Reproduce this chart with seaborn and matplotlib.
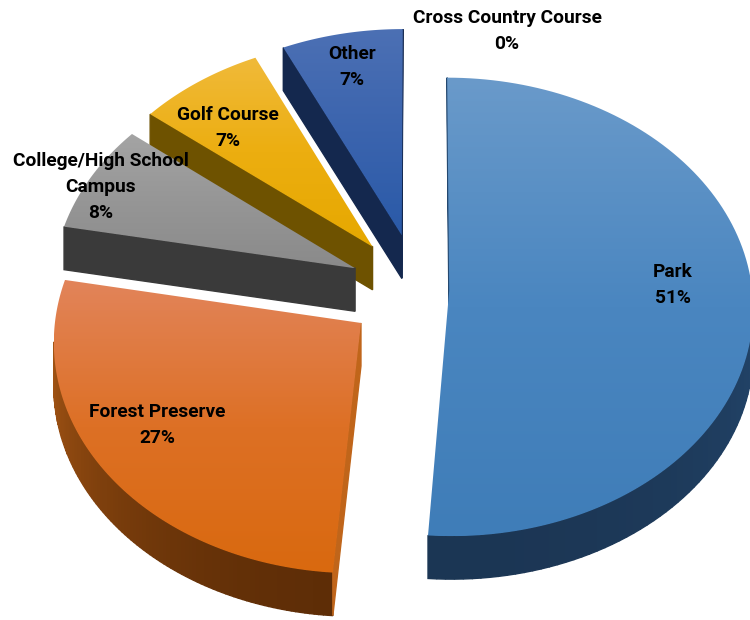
#!/usr/bin/env python3
"""Exploded 3D style pie of race venue types."""

import numpy as np
import seaborn as sns
import matplotlib.pyplot as plt
from matplotlib.colors import LinearSegmentedColormap
from matplotlib.patches import Polygon

categories = ["Park", "Forest Preserve", "College/High School\nCampus", "Golf Course", "Other", "Cross Country Course"]
percents = [51, 27, 8, 7, 7, 0]
# slice sizes before rounding, as far as they can be measured on the picture
shares = [51.15, 26.85, 7.7, 7.3, 7.0, 0]
explode = [0.103, 0.235, 0.23, 0.245, 0.25, 0.2]

# top face gradient stops, rim colours (light end, dark end)
top_colors = [("#6a9aca", "#4a86c0", "#3f7db8"), ("#e2845a", "#dd7025", "#d9690f"), ("#a4a4a4", "#969696", "#8a8a8a"),
              ("#f0ba3a", "#ecae10", "#e6a800"), ("#4c70b4", "#3b64ae", "#2a5aa8")]
rim_colors = [("#24486f", "#1a3350"), ("#c0651a", "#5c2c06"), ("#3a3a3a", "#3a3a3a"),
              ("#6e5200", "#6e5200"), ("#14284e", "#14284e")]
label_pos = [(673, 285), (157, 425), (101, 187), (228, 128), (352, 67), (507, 31)]

CX, CY = 418, 290
RX, RY = 303, 228
TILT = 0.07
DEPTH = 43


def project(u, v):
    w = 1 + TILT * v
    return np.column_stack([CX + RX * u / w, CY - RY * v / w])


sns.set_theme(style="white")
plt.rcParams['font.family'] = ['Roboto', 'Liberation Sans', 'DejaVu Sans']

fig, ax = plt.subplots(figsize=(7.5, 6.2), dpi=100)
fig.subplots_adjust(0, 0, 1, 1)

wedges, _ = ax.pie(shares, explode=explode, startangle=90, counterclock=False)
shapes = []
for w in wedges:
    t = np.radians(np.linspace(w.theta1, w.theta2, 120))
    arc = project(w.center[0] + w.r * np.cos(t), w.center[1] + w.r * np.sin(t))
    apex = project(np.array([w.center[0]]), np.array([w.center[1]]))
    shapes.append((arc, apex))
    w.remove()

ax.set_aspect('auto')
ax.axis('off')

# back to front so nearer slices sit on top
for i in [4, 3, 2, 1, 0]:
    arc, apex = shapes[i]
    outline = np.vstack([apex, arc])
    n = len(outline)
    rim_cmap = LinearSegmentedColormap.from_list("rim", rim_colors[i])
    for j in range(n):
        a, b = outline[j], outline[(j + 1) % n]
        # outline runs counterclockwise, edges running leftwards face away from the viewer
        if b[0] - a[0] < 0:
            continue
        quad = [a, b, b + [0, DEPTH], a + [0, DEPTH]]
        on_arc = 0 < j < n - 1
        frac = np.clip((a[1] - 250) / 330, 0, 1) if on_arc else 1
        ax.add_patch(Polygon(quad, closed=True, fc=rim_cmap(frac), ec=rim_cmap(frac), lw=1, zorder=2))
    x0, y0 = outline.min(axis=0)
    x1, y1 = outline.max(axis=0)
    top_cmap = LinearSegmentedColormap.from_list("top", top_colors[i])
    img = ax.imshow(np.linspace(0, 1, 256)[:, None], cmap=top_cmap, aspect='auto',
                    extent=(x0, x1, y1, y0), zorder=3)
    clip = Polygon(outline, closed=True, fc='none', ec='none', transform=ax.transData)
    ax.add_patch(clip)
    img.set_clip_path(clip)

ax.set_xlim(0, 750)
ax.set_ylim(620, 0)

for name, pct, (x, y) in zip(categories, percents, label_pos):
    ax.text(x, y, f"{name}\n{pct}%", ha='center', va='center', fontsize=13.8, fontweight='bold',
            color='black', linespacing=1.55, zorder=5)

plt.savefig("out.png", dpi=100)
